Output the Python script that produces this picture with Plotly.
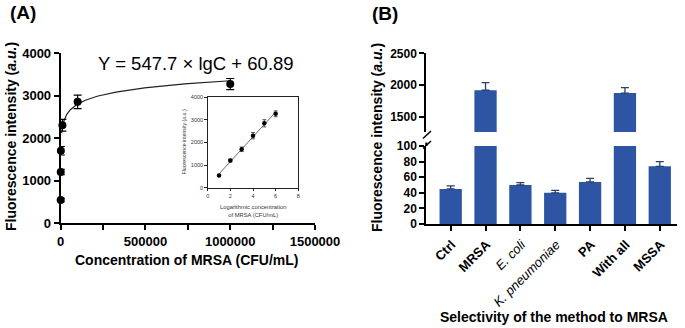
import numpy as np
import plotly.graph_objects as go

W, H = 685, 328
def px(x): return x / W
def py(y): return 1 - y / H

# ---------- Panel A data ----------
conc = [10, 100, 1000, 10000, 100000, 1000000]
log_conc = [1, 2, 3, 4, 5, 6]
intensity = [540, 1200, 1700, 2300, 2850, 3270]
intensity_err = [40, 60, 100, 140, 160, 130]
fit_slope, fit_intercept = 547.7, 60.89
a_xticks = [0, 500000, 1000000, 1500000]
a_yticks = [0, 1000, 2000, 3000, 4000]
inset_xticks = [0, 2, 4, 6, 8]

# ---------- Panel B data ----------
groups = ["Ctrl", "MRSA", "E. coli", "K. pneumoniae", "PA", "With all", "MSSA"]
group_labels = ["<b>Ctrl</b>", "<b>MRSA</b>", "<i>E. coli</i>", "<i>K. pneumoniae</i>",
                "<b>PA</b>", "<b>With all</b>", "<b>MSSA</b>"]
sel_values = [45, 1920, 50, 40, 54, 1875, 74]
sel_err = [4, 120, 3, 3, 4.5, 85, 6]
b_low_ticks = [0, 20, 40, 60, 80, 100]
b_high_ticks = [1500, 2000, 2500]

BLUE = "#2D55A3"
FONT = "Liberation Sans, Arial, sans-serif"

fig = go.Figure()

# Panel A main
fit_c = np.logspace(3.75, 6, 200)
fit_y = fit_slope * np.log10(fit_c) + fit_intercept
fig.add_trace(go.Scatter(x=fit_c, y=fit_y, mode="lines", line=dict(color="#222", width=1.2),
                         xaxis="x", yaxis="y", showlegend=False, hoverinfo="skip"))
fig.add_trace(go.Scatter(x=conc, y=intensity, mode="markers",
                         marker=dict(color="black", size=8),
                         error_y=dict(type="data", array=intensity_err, color="black", thickness=1.2, width=4),
                         xaxis="x", yaxis="y", showlegend=False, cliponaxis=False))

# Inset
fit_lx = np.array([log_conc[0], log_conc[-1]])
fig.add_trace(go.Scatter(x=fit_lx, y=fit_slope * fit_lx + fit_intercept, mode="lines",
                         line=dict(color="#444", width=0.8),
                         xaxis="x2", yaxis="y2", showlegend=False, hoverinfo="skip"))
fig.add_trace(go.Scatter(x=log_conc, y=intensity, mode="markers",
                         marker=dict(color="black", size=4.5),
                         error_y=dict(type="data", array=intensity_err, color="#333", thickness=0.8, width=2),
                         xaxis="x2", yaxis="y2", showlegend=False, cliponaxis=False))

# Panel B bars
low_err = [e if v <= 100 else 0 for v, e in zip(sel_values, sel_err)]
high_vals = [v if v > 100 else None for v in sel_values]
high_err = [e if v > 100 else 0 for v, e in zip(sel_values, sel_err)]
fig.add_trace(go.Bar(x=list(range(len(groups))), y=sel_values, marker_color=BLUE, width=0.64,
                     error_y=dict(type="data", symmetric=False, array=low_err, arrayminus=[0]*len(groups),
                                  color="#2B3F6B", thickness=1.3, width=4),
                     xaxis="x3", yaxis="y3", showlegend=False))
fig.add_trace(go.Bar(x=list(range(len(groups))), y=high_vals, marker_color=BLUE, width=0.64,
                     error_y=dict(type="data", symmetric=False, array=high_err, arrayminus=[0]*len(groups),
                                  color="#2B3F6B", thickness=1.3, width=4),
                     xaxis="x3", yaxis="y4", showlegend=False))

axis_common = dict(showline=True, linecolor="black", linewidth=2, ticks="outside",
                   tickcolor="black", tickwidth=2, ticklen=5, showgrid=False, zeroline=False,
                   automargin=False)

fig.update_layout(
    template="none",
    width=W, height=H, margin=dict(l=0, r=0, t=0, b=0, pad=0, autoexpand=False),
    paper_bgcolor="white", plot_bgcolor="rgba(0,0,0,0)",
    font=dict(family=FONT, color="black"),
    barmode="overlay",
    xaxis=dict(domain=[px(60.7), px(315)], range=[0, 1500000], anchor="y",
               tickvals=a_xticks, ticktext=[f"<b>{v}</b>" for v in a_xticks],
               tickfont=dict(size=13),
               minor=dict(dtick=250000, tick0=0, ticks="outside", ticklen=5, tickcolor="black", tickwidth=2,
                          showgrid=False),
               **axis_common),
    yaxis=dict(domain=[py(223), py(53)], range=[0, 4000], anchor="x",
               tickvals=a_yticks, ticktext=[f"<b>{v}</b>" for v in a_yticks],
               tickfont=dict(size=13), **axis_common),
    xaxis2=dict(domain=[px(207.7), px(298.3)], range=[0, 8], anchor="y2",
                tickvals=inset_xticks, tickfont=dict(size=5.5, color="#333"),
                showline=True, mirror=True, linecolor="#222", linewidth=1, ticks="outside",
                ticklen=2.5, tickwidth=0.8, tickcolor="#222", showgrid=False, zeroline=False,
                automargin=False),
    yaxis2=dict(domain=[py(187.7), py(97.3)], range=[0, 4000], anchor="x2",
                tickvals=a_yticks, tickfont=dict(size=5.5, color="#333"),
                showline=True, mirror=True, linecolor="#222", linewidth=1, ticks="outside",
                ticklen=2.5, tickwidth=0.8, tickcolor="#222", showgrid=False, zeroline=False,
                automargin=False),
    xaxis3=dict(domain=[px(426.3), px(677.2)], range=[-0.7, 6.5], anchor="y3",
                tickvals=list(range(len(groups))), ticktext=group_labels, tickangle=-45,
                tickfont=dict(size=13), ticklabelshift=1, ticklabelstandoff=1,
                **axis_common),
    yaxis3=dict(domain=[py(224), py(146)], range=[0, 100], anchor="x3",
                tickvals=b_low_ticks, ticktext=[f"<b>{v}</b>" for v in b_low_ticks],
                tickfont=dict(size=12), **axis_common),
    yaxis4=dict(domain=[py(132), py(53.3)], range=[1264, 2500], anchor="x3",
                tickvals=b_high_ticks, ticktext=[f"<b>{v}</b>" for v in b_high_ticks],
                tickfont=dict(size=12), **axis_common),
)

ann = []
def add_text(x, y, text, size, angle=0, color="black", xanchor="center", yanchor="middle"):
    ann.append(dict(x=px(x), y=py(y), xref="paper", yref="paper", text=text, showarrow=False,
                    font=dict(size=size, color=color, family=FONT), textangle=angle,
                    xanchor=xanchor, yanchor=yanchor))

add_text(23, 12, "<b>(A)</b>", 19)
add_text(385, 13, "<b>(B)</b>", 19)
add_text(196, 63, "Y = 547.7 × lgC + 60.89", 18.5)
add_text(11, 137, "<b>Fluorescence intensity (<i>a.u.</i>)</b>", 14, angle=-90)
add_text(186, 260, "<b>Concentration of MRSA (CFU/mL)</b>", 14)
add_text(183.5, 142, "Fluorescence intensity (<i>a.u.</i>)", 5.2, angle=-90, color="#333")
add_text(253, 210.5, "Logarithmic concentration<br>of MRSA (CFU/mL)", 5.8, color="#333")
add_text(377, 138, "<b>Fluorescence intensity (<i>a.u.</i>)</b>", 14, angle=-90)
add_text(554, 317, "<b>Selectivity of the method to MRSA</b>", 14)
fig.update_layout(annotations=ann)

# axis break marks and small axis extension
shapes = [
    dict(type="line", xref="paper", yref="paper", x0=px(423), y0=py(138.5), x1=px(431), y1=py(131),
         line=dict(color="black", width=1.5)),
    dict(type="line", xref="paper", yref="paper", x0=px(423), y0=py(148.5), x1=px(431), y1=py(141),
         line=dict(color="black", width=1.5)),
    dict(type="line", xref="paper", yref="paper", x0=px(426.3), y0=py(146), x1=px(426.3), y1=py(142.5),
         line=dict(color="black", width=2)),
]
fig.update_layout(shapes=shapes)

fig.write_html("out.html", config={"displayModeBar": False},
               post_script="document.body.style.margin='0';document.body.style.overflow='hidden';")
